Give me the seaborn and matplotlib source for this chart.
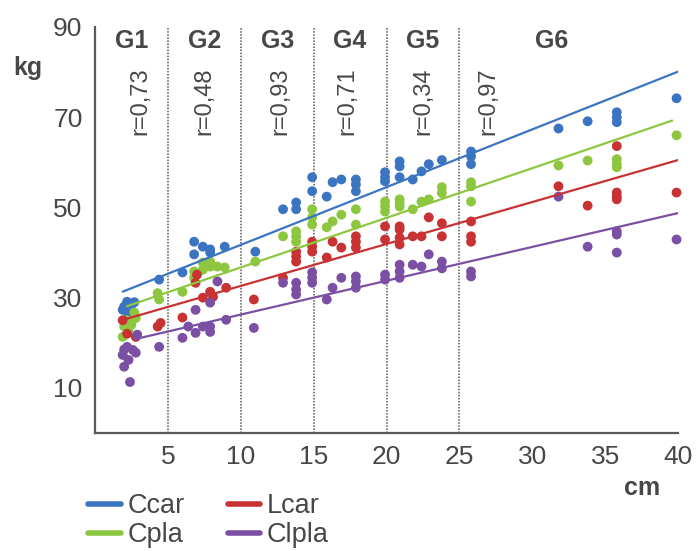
import numpy as np
import pandas as pd
import matplotlib.pyplot as plt
import seaborn as sns
from matplotlib.lines import Line2D

# ---------------- data ----------------
ccar_x = [2.2, 2.0, 2.5, 1.9, 2.3, 2.7, 4.4, 6.0, 6.8, 6.8, 7.4, 7.9, 7.9, 8.9, 11.0,
          12.9, 13.8, 13.8, 14.9, 14.9, 15.9, 16.3, 16.9, 17.9, 17.9, 17.9,
          19.9, 19.9, 19.9, 20.9, 20.9, 20.9, 21.8, 22.4, 22.9, 23.8,
          25.8, 25.8, 25.8, 31.8, 33.8, 35.8, 35.8, 35.8, 39.9]
ccar_y = [29.1, 28.0, 28.4, 27.3, 26.4, 29.0, 34.0, 35.6, 42.4, 39.6, 41.3, 40.7, 40.0, 41.3, 40.2,
          49.6, 51.1, 49.6, 56.7, 53.6, 52.4, 55.6, 56.2, 56.2, 55.1, 53.6,
          57.8, 56.7, 55.8, 60.2, 59.1, 56.7, 56.2, 58.0, 59.6, 60.5,
          62.4, 61.3, 59.6, 67.5, 69.1, 71.1, 70.0, 68.9, 74.2]

cpla_x = [2.7, 2.0, 2.3, 1.9, 2.5, 2.8, 2.2, 4.3, 4.4, 6.0, 6.8, 6.8, 7.4, 7.4, 7.9, 7.9,
          8.4, 8.9, 11.0, 12.9, 13.8, 13.8, 13.8, 14.9, 14.9, 14.9, 15.9, 16.3, 16.9,
          17.9, 17.9, 19.9, 19.9, 19.9, 20.9, 20.9, 20.9, 21.8, 22.4, 22.9, 23.8, 23.8,
          25.8, 25.8, 25.8, 31.8, 33.8, 35.8, 35.8, 35.8, 39.9]
cpla_y = [26.7, 23.6, 22.9, 21.3, 24.0, 25.5, 25.0, 31.0, 29.6, 31.3, 35.8, 34.4, 36.2, 37.8, 38.0, 36.9,
          36.9, 36.7, 38.0, 43.6, 44.7, 43.6, 42.4, 49.6, 47.8, 46.2, 45.6, 46.9, 48.4,
          49.6, 46.2, 51.3, 50.2, 49.1, 51.8, 51.1, 50.2, 49.6, 51.3, 51.8, 54.5, 53.2,
          55.6, 54.7, 51.3, 59.3, 60.4, 60.7, 59.6, 58.9, 66.0]

lcar_x = [1.9, 2.8, 2.2, 4.3, 4.5, 6.0, 6.9, 7.0, 7.9, 7.4, 8.1, 9.0, 10.9, 12.9,
          13.8, 13.8, 13.8, 14.9, 14.9, 14.9, 15.9, 16.3, 16.9, 17.9, 17.9, 17.9,
          19.9, 19.9, 20.9, 20.9, 20.9, 20.9, 21.8, 22.4, 22.9, 23.8, 23.8,
          25.8, 25.8, 25.8, 31.8, 33.8, 35.8, 35.8, 35.8, 35.8, 39.9]
lcar_y = [25.0, 21.3, 22.0, 23.6, 24.4, 25.6, 33.3, 35.1, 31.3, 30.0, 30.2, 32.2, 29.6, 34.4,
          40.2, 39.1, 38.0, 42.4, 41.3, 40.2, 38.9, 42.4, 41.1, 43.6, 42.4, 41.1,
          45.8, 42.9, 45.8, 45.1, 43.3, 41.8, 43.6, 43.6, 47.8, 46.5, 43.6,
          46.9, 43.6, 42.4, 54.7, 50.4, 63.6, 53.3, 52.4, 51.8, 53.3]

clpla_x = [2.9, 2.2, 1.9, 2.3, 2.0, 2.6, 2.4, 2.8, 2.0, 4.4, 6.0, 6.4, 6.9, 6.9, 7.4, 7.9, 7.9,
           7.9, 8.4, 9.0, 10.9, 12.9, 13.8, 13.8, 13.8, 14.9, 14.9, 14.9, 15.9, 16.3, 16.9,
           17.9, 17.9, 17.9, 19.9, 19.9, 20.9, 20.9, 20.9, 21.8, 22.4, 22.9, 23.8, 23.8,
           25.8, 25.8, 31.8, 33.8, 35.8, 35.8, 35.8, 39.9]
clpla_y = [21.8, 19.1, 17.3, 16.2, 14.7, 18.4, 11.3, 17.8, 18.5, 19.1, 21.1, 23.6, 22.2, 27.3, 23.6, 23.6, 22.4,
           28.9, 33.6, 25.1, 23.3, 33.3, 33.3, 31.8, 30.7, 35.6, 34.4, 33.3, 29.6, 32.2, 34.4,
           34.7, 33.6, 32.2, 35.1, 34.0, 37.3, 35.8, 34.4, 37.3, 36.9, 39.6, 38.0, 36.5,
           35.8, 34.7, 52.4, 41.3, 44.7, 44.0, 40.0, 42.9]

# regression lines (slope, intercept, x range)
fit_slope = {"Ccar": 1.28, "Cpla": 1.10, "Lcar": 0.93, "Clpla": 0.75}
fit_intercept = {"Ccar": 28.9, "Cpla": 25.7, "Lcar": 23.3, "Clpla": 18.75}
fit_xmin = {"Ccar": 1.9, "Cpla": 2.2, "Lcar": 1.9, "Clpla": 2.7}
fit_xmax = {"Ccar": 40.0, "Cpla": 39.6, "Lcar": 40.0, "Clpla": 40.0}

group_bounds = [5, 10, 15, 20, 25]
group_names = ["G1", "G2", "G3", "G4", "G5", "G6"]
group_pos = [2.5, 7.5, 12.5, 17.5, 22.5, 31.3]
r_labels = ["r=0,73", "r=0,48", "r=0,93", "r=0,71", "r=0,34", "r=0,97"]
r_pos = [3.1, 7.5, 12.7, 17.3, 22.5, 27.0]

series = ["Ccar", "Cpla", "Lcar", "Clpla"]
palette = {"Ccar": "#3b75c2", "Cpla": "#8dc63f", "Lcar": "#c83232", "Clpla": "#7b50a4"}

xs = {"Ccar": ccar_x, "Cpla": cpla_x, "Lcar": lcar_x, "Clpla": clpla_x}
ys = {"Ccar": ccar_y, "Cpla": cpla_y, "Lcar": lcar_y, "Clpla": clpla_y}

df = pd.concat([
    pd.DataFrame({"cm": xs[s], "kg": ys[s], "serie": s}) for s in series
], ignore_index=True)

# ---------------- plot ----------------
sns.set_style("white")
plt.rcParams["font.family"] = ["Liberation Sans", "DejaVu Sans"]
txt = "#474747"

fig, ax = plt.subplots(figsize=(6.96, 5.51), dpi=100)
fig.subplots_adjust(left=95/696, right=678/696, top=1-27/551, bottom=1-433/551)

for b in group_bounds:
    ax.axvline(b, ymin=0, ymax=1, color="#555555", linestyle=(0, (1, 1)), lw=1.1, zorder=1)

sns.scatterplot(data=df, x="cm", y="kg", hue="serie", palette=palette,
                s=50, linewidth=0, legend=False, ax=ax, zorder=2, clip_on=False)

for s in series:
    xr = np.array([fit_xmin[s], fit_xmax[s]])
    sns.lineplot(x=xr, y=fit_intercept[s] + fit_slope[s] * xr,
                 color=palette[s], lw=1.6, ax=ax, zorder=3)

ax.set_xlim(0, 40)
ax.set_ylim(0, 90)
ax.set_xticks([5, 10, 15, 20, 25, 30, 35, 40])
ax.set_yticks([10, 30, 50, 70, 90])
ax.tick_params(length=0, pad=9, labelsize=19, labelcolor=txt)
ax.set_xlabel("")
ax.set_ylabel("")
sns.despine(ax=ax)
for side in ["left", "bottom"]:
    ax.spines[side].set_color("#5a5a5a")
    ax.spines[side].set_linewidth(1.6)

for name, gx in zip(group_names, group_pos):
    ax.text(gx, 87, name, ha="center", va="center", fontsize=18,
            fontweight="bold", color=txt)
for lab, rx in zip(r_labels, r_pos):
    ax.text(rx, 73.5, lab, ha="center", va="center", rotation=90,
            fontsize=17, color=txt)

fig.text(28/696, 1-68/551, "kg", ha="center", va="center", fontsize=18,
         fontweight="bold", color=txt)
fig.text(642/696, 1-488/551, "cm", ha="center", va="center", fontsize=18,
         fontweight="bold", color=txt)

handles = [Line2D([0], [0], color=palette[s], lw=4) for s in series]
leg = fig.legend(handles, series, ncol=2, loc="upper left",
                 bbox_to_anchor=(88/696, 1-493/551), frameon=False,
                 fontsize=19.5, handlelength=1.2, handletextpad=0.25,
                 columnspacing=1.6, labelspacing=0.12, borderpad=0, borderaxespad=0)
for t in leg.get_texts():
    t.set_color(txt)

fig.savefig("out.png", dpi=100)
